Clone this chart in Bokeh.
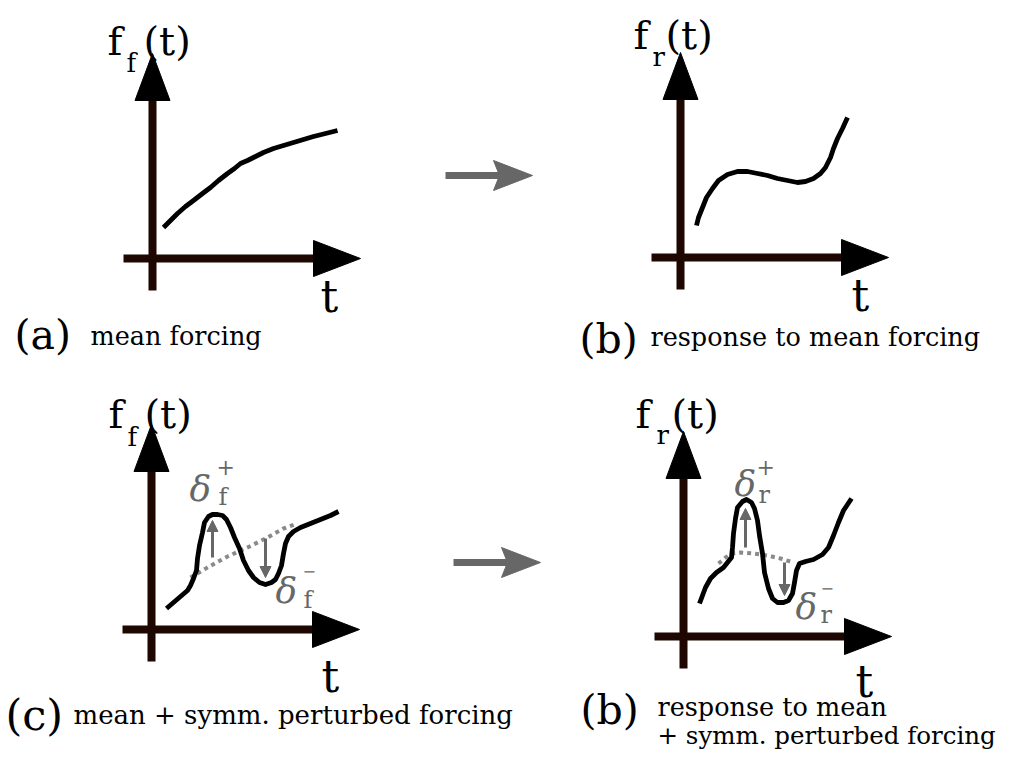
from bokeh.plotting import figure
from bokeh.models import Range1d, Arrow, NormalHead
from bokeh.core.properties import value
from bokeh.embed import file_html
from bokeh.resources import INLINE

# ---------------- data (panel-local units: t right of axis origin, f above it) ----
a_t = [11, 18, 25, 33, 41, 50, 58, 66, 75, 82, 88, 95, 101, 111, 121, 131, 141, 151, 161, 173, 185]
a_f = [31, 38, 45, 52, 58, 65, 71, 78, 85, 90, 95, 98, 101, 106, 110, 113, 116, 119, 122, 125, 128]

b_t = [16, 18, 22, 26, 32, 38, 47, 57, 67, 77, 87, 97, 107, 117, 125, 133, 140, 145,
       150, 153, 157, 162, 167]
b_f = [32, 40, 50, 60, 69, 77, 83, 86, 86, 84, 82, 79, 77, 75, 76, 79, 84, 90,
       100, 109, 119, 129, 140]

c_t = [15, 22, 29, 36, 39, 42, 45, 46, 48, 51, 53, 57, 61, 66, 71, 75, 79, 83, 88, 92,
       97, 102, 108, 114, 120, 124, 127, 130, 132, 134, 137, 142, 149, 159, 169, 179, 187]
c_f = [21, 27, 33, 39, 44, 51, 59, 71, 84, 97, 107, 113, 115, 115, 114, 110, 102, 92, 81, 69,
       59, 52, 47, 45, 47, 50, 56, 64, 76, 86, 93, 98, 102, 106, 110, 114, 118]
c_mean_t = [39, 56, 76, 96, 116, 132, 146]
c_mean_f = [52, 62, 73, 82, 92, 101, 106]
c_delta_t = [61, 114]
c_delta_from = [72, 91]
c_delta_to = [109, 52]

d_t = [16, 19, 22, 27, 33, 40, 44, 48, 49, 50, 52, 54, 59, 63, 68, 71, 74, 76, 79, 81,
       85, 89, 94, 100, 105, 109, 111, 113, 116, 122, 130, 139, 145, 150, 155, 160, 168]
d_f = [33, 41, 49, 58, 64, 69, 74, 79, 89, 103, 118, 129, 135, 137, 134, 128, 116, 101, 83, 64,
       48, 38, 34, 34, 36, 43, 54, 66, 73, 75, 77, 82, 89, 101, 114, 126, 138]
d_mean_t = [35, 42, 49, 57, 70, 84, 97, 110]
d_mean_f = [73, 79, 83, 84, 83, 81, 78, 74]
d_delta_t = [62, 101]
d_delta_from = [89, 74]
d_delta_to = [128, 41]

# ---------------- layout ----------------
W, H = 1006, 752
ORIG = {"a": (152, 258), "b": (680, 257), "c": (151, 629), "d": (683, 636)}
AX_COL = "#1e0700"
GREY = "#676767"
DOT = "#8a8a8a"
SERIF = "DejaVu Serif"
TEXT_DY = -7

p = figure(width=W, height=H, x_range=Range1d(0, W), y_range=Range1d(H, 0),
           x_axis_type=None, y_axis_type=None, toolbar_location=None,
           output_backend="svg", min_border=0)
p.outline_line_color = None
p.background_fill_color = "white"
p.border_fill_color = "white"


def X(o, ts):
    return [ORIG[o][0] + t for t in ts]


def Y(o, fs):
    return [ORIG[o][1] - f for f in fs]


def draw_axes(o):
    x0, y0 = ORIG[o]
    p.segment(x0=[x0], y0=[y0 + 32], x1=[x0], y1=[y0 - 160],
              line_width=8, line_color=AX_COL, line_cap="butt")
    p.segment(x0=[x0 - 29], y0=[y0], x1=[x0 + 163], y1=[y0],
              line_width=8, line_color=AX_COL, line_cap="butt")
    p.patches(xs=[[x0, x0 - 17.5, x0 + 17.5], [x0 + 208, x0 + 161, x0 + 161]],
              ys=[[y0 - 205, y0 - 158, y0 - 158], [y0, y0 - 18, y0 + 18]],
              fill_color="black", line_color="black", line_width=1)


def put(x, y, s, size, color="black", style="normal", font=SERIF):
    p.text(x=[x], y=[y + TEXT_DY], text=[s], text_font=value(font),
           text_font_size=f"{size}px", text_color=color, text_font_style=style,
           text_baseline="alphabetic", text_align="left")


for o in "abcd":
    draw_axes(o)

# mean (dotted) curves
p.line(X("c", c_mean_t), Y("c", c_mean_f), line_width=4, line_color=DOT, line_dash="4 4")
p.line(X("d", d_mean_t), Y("d", d_mean_f), line_width=4, line_color=DOT, line_dash="4 4")

# solid curves
for o, ts, fs in [("a", a_t, a_f), ("b", b_t, b_f), ("c", c_t, c_f), ("d", d_t, d_f)]:
    p.line(X(o, ts), Y(o, fs), line_width=4.8, line_color="black", line_join="round")

# perturbation arrows
for o, ts, f0s, f1s in [("c", c_delta_t, c_delta_from, c_delta_to),
                        ("d", d_delta_t, d_delta_from, d_delta_to)]:
    for t, f0, f1 in zip(ts, f0s, f1s):
        x = ORIG[o][0] + t
        p.add_layout(Arrow(x_start=x, y_start=ORIG[o][1] - f0, x_end=x, y_end=ORIG[o][1] - f1,
                           line_width=3, line_color=GREY,
                           end=NormalHead(size=11, fill_color=GREY, line_color=GREY, line_width=1)))

# grey transition arrows between panels
for (sx, sy) in [(445, 175), (453, 562)]:
    p.segment(x0=[sx], y0=[sy], x1=[sx + 54], y1=[sy], line_width=7, line_color=GREY,
              line_cap="butt")
    p.patch(x=[sx + 87, sx + 48, sx + 54, sx + 48], y=[sy, sy - 15, sy, sy + 15],
            fill_color=GREY, line_color=GREY, line_width=1)

# axis labels
put(107, 47, "f", 40); put(126, 69, "f", 26); put(143, 47, "(t)", 40)
put(633, 41, "f", 40); put(652, 63, "r", 26); put(665, 41, "(t)", 40)
put(108, 420, "f", 40); put(127, 443, "f", 26); put(144, 420, "(t)", 40)
put(635, 420, "f", 40); put(656, 441, "r", 26); put(671, 420, "(t)", 40)
for (tx, ty) in [(320, 303), (851, 302), (321, 683), (855, 688)]:
    put(tx, ty, "t", 44)

# delta labels
put(189, 495, "δ", 36, GREY, "italic"); put(218, 503, "f", 24, GREY); put(216, 473, "+", 22, GREY)
put(275, 597, "δ", 36, GREY, "italic"); put(303, 606, "f", 24, GREY); put(302, 577, "−", 16, GREY)
put(734, 490, "δ", 36, GREY, "italic"); put(758, 501, "r", 24, GREY); put(756, 473, "+", 22, GREY)
put(795, 613, "δ", 36, GREY, "italic"); put(820, 621, "r", 24, GREY); put(820, 594, "−", 16, GREY)

# captions
put(14, 341, "(a)", 41); put(90, 342, "mean forcing", 25.5)
put(579, 345, "(b)", 41); put(650, 343, "response to mean forcing", 25.5)
put(5, 721, "(c)", 43); put(73, 721, "mean + symm. perturbed forcing", 26)
put(580, 716, "(b)", 41); put(657, 713, "response to mean", 25.5)
put(657, 742, "+ symm. perturbed forcing", 24.5)

open("out.html", "w").write(file_html(p, INLINE))
